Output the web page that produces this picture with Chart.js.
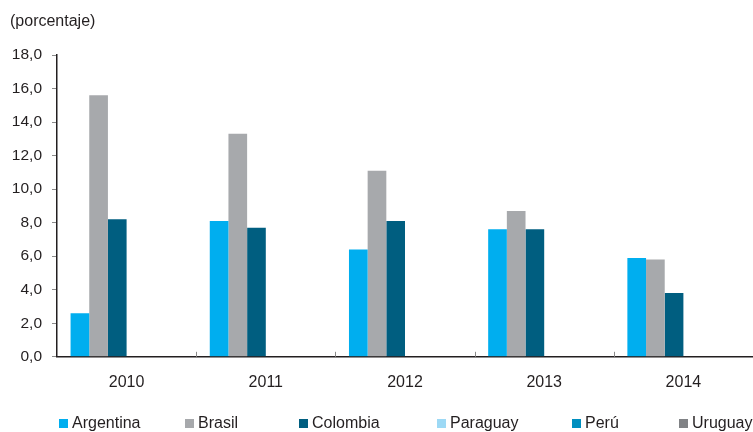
<!DOCTYPE html>
<html>
<head>
<meta charset="utf-8">
<script src="https://cdn.jsdelivr.net/npm/chart.js@4"></script>
<style>
  html, body { margin: 0; padding: 0; background: #fff; }
  #wrap { width: 753px; height: 432px; position: relative; }
</style>
</head>
<body>
<div id="wrap"><canvas id="grafico"></canvas></div>
<script>
// Datos (porcentaje)
const anios = ["2010", "2011", "2012", "2013", "2014"];
const argentina = [2.6, 8.1, 6.4, 7.6, 5.9];
const brasil = [15.6, 13.3, 11.1, 8.7, 5.8];
const colombia = [8.2, 7.7, 8.1, 7.6, 3.8];
const paraguay = [null, null, null, null, null];
const peru = [null, null, null, null, null];
const uruguay = [null, null, null, null, null];

const colores = {
    argentina: "#00aeef",
    brasil: "#a7a9ac",
    colombia: "#005e80",
    paraguay: "#9dd9f5",
    peru: "#008fbf",
    uruguay: "#808285"
};

const texto = "#231f20";
const fuente = "'Liberation Sans', Arial, sans-serif";

// posiciones horizontales de la leyenda
const leyendaX = [59, 185, 299, 437, 572, 679];

// Título, marcas del eje x y leyenda dibujados a mano
const extras = {
    id: "extras",
    afterDraw(chart) {
        const ctx = chart.ctx;
        const area = chart.chartArea;
        const x = chart.scales.x;
        ctx.save();

        // marcas hacia dentro en los límites de cada categoría
        ctx.strokeStyle = "#8a8a8a";
        ctx.lineWidth = 1;
        const paso = x.getPixelForValue(1) - x.getPixelForValue(0);
        for (let i = 1; i <= anios.length; i++) {
            const px = Math.round(x.getPixelForValue(i) - paso / 2) + 0.5;
            ctx.beginPath();
            ctx.moveTo(px, area.bottom);
            ctx.lineTo(px, area.bottom - 5);
            ctx.stroke();
        }

        ctx.fillStyle = texto;
        ctx.font = "16px " + fuente;
        ctx.textBaseline = "middle";
        ctx.textAlign = "left";
        ctx.fillText("(porcentaje)", 10, 22);

        // leyenda
        chart.data.datasets.forEach((ds, i) => {
            const lx = leyendaX[i];
            ctx.fillStyle = ds.backgroundColor;
            ctx.fillRect(lx, 419, 9, 9);
            ctx.fillStyle = texto;
            ctx.fillText(ds.label, lx + 13, 424);
        });
        ctx.restore();
    }
};

const ctx = document.getElementById("grafico").getContext("2d");
const chart = new Chart(ctx, {
    type: "bar",
    data: {
        labels: anios,
        datasets: [
            { label: "Argentina", data: argentina, backgroundColor: colores.argentina },
            { label: "Brasil", data: brasil, backgroundColor: colores.brasil },
            { label: "Colombia", data: colombia, backgroundColor: colores.colombia },
            { label: "Paraguay", data: paraguay, backgroundColor: colores.paraguay },
            { label: "Perú", data: peru, backgroundColor: colores.peru },
            { label: "Uruguay", data: uruguay, backgroundColor: colores.uruguay }
        ]
    },
    options: {
        responsive: true,
        maintainAspectRatio: false,
        animation: false,
        categoryPercentage: 0.805,
        barPercentage: 1.0,
        layout: { padding: { top: 55, right: 0, bottom: 24, left: 0 } },
        plugins: {
            legend: { display: false },
            tooltip: { enabled: false }
        },
        scales: {
            x: {
                grid: { display: false, drawTicks: false },
                border: { display: true, color: texto, width: 1.5 },
                ticks: {
                    color: texto,
                    font: { family: fuente, size: 16 },
                    padding: 16
                }
            },
            y: {
                min: 0,
                max: 18,
                afterFit(scale) { scale.width = 57; },
                grid: {
                    drawOnChartArea: false,
                    drawTicks: true,
                    tickLength: 5,
                    color: "#8a8a8a"
                },
                border: { display: true, color: texto, width: 1.5 },
                ticks: {
                    stepSize: 2,
                    color: texto,
                    font: { family: fuente, size: 15.5 },
                    padding: 10,
                    callback: v => v.toFixed(1).replace(".", ",")
                }
            }
        }
    },
    plugins: [extras]
});
</script>
</body>
</html>
